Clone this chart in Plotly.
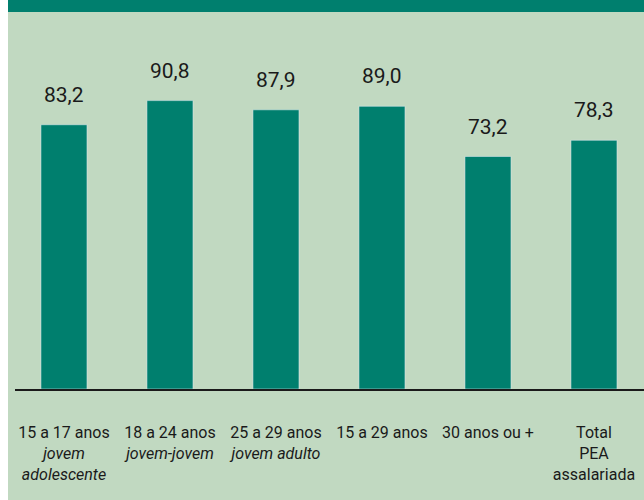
import plotly.graph_objects as go

categories = ["15 a 17 anos<br><i>jovem</i><br><i>adolescente</i>",
              "18 a 24 anos<br><i>jovem-jovem</i>",
              "25 a 29 anos<br><i>jovem adulto</i>",
              "15 a 29 anos",
              "30 anos ou +",
              "Total<br>PEA<br>assalariada"]
values = [83.2, 90.8, 87.9, 89.0, 73.2, 78.3]
value_labels = ["83,2", "90,8", "87,9", "89,0", "73,2", "78,3"]

BG = "#c1d9c1"
BAR = "#007f6e"
FONT = "Roboto, sans-serif"

fig = go.Figure(go.Bar(x=categories, y=values, marker_color=BAR, width=0.434,
                       hoverinfo="skip"))

for c, v, t in zip(categories, values, value_labels):
    fig.add_annotation(x=c, y=v, text=t, showarrow=False, yanchor="bottom",
                       yshift=16, font=dict(size=21, color="#1a1a1a", family=FONT))

W, H = 644, 500
L, R, T, B = 15, 0, 12, 111
pw = W - L - R
ph = H - T - B

# background panel and top band
fig.add_shape(type="rect", xref="paper", yref="paper",
              x0=(8 - L) / pw, x1=1.02, y0=-B / ph - 0.05, y1=1 + T / ph + 0.05,
              fillcolor=BG, line_width=0, layer="below")
fig.add_shape(type="rect", xref="paper", yref="paper",
              x0=(8 - L) / pw, x1=1.02, y0=1, y1=1 + T / ph + 0.05,
              fillcolor=BAR, line_width=0, layer="above")
# white strip on the left edge
fig.add_shape(type="rect", xref="paper", yref="paper",
              x0=-L / pw - 0.01, x1=(8 - L) / pw, y0=-B / ph - 0.05, y1=1 + T / ph + 0.05,
              fillcolor="white", line_width=0, layer="above")

fig.update_layout(
    width=W, height=H,
    margin=dict(l=L, r=R, t=T, b=B, autoexpand=False),
    paper_bgcolor="white", plot_bgcolor="rgba(0,0,0,0)",
    showlegend=False, hovermode=False,
    font=dict(family=FONT, size=16, color="#1a1a1a"),
)
fig.update_xaxes(type="category", range=[-0.462, 5.472], showgrid=False,
                 showline=True, linecolor="#1a1a1a", linewidth=1.5,
                 ticks="", ticklabelstandoff=28, tickangle=0, automargin=False,
                 tickfont=dict(size=16, family=FONT, color="#1a1a1a"))
fig.update_yaxes(range=[0, 118.7], visible=False, showgrid=False, zeroline=False,
                 automargin=False)

fig.write_html("out.html", config={"displayModeBar": False},
               post_script="document.body.style.margin='0';document.body.style.overflow='hidden';")
